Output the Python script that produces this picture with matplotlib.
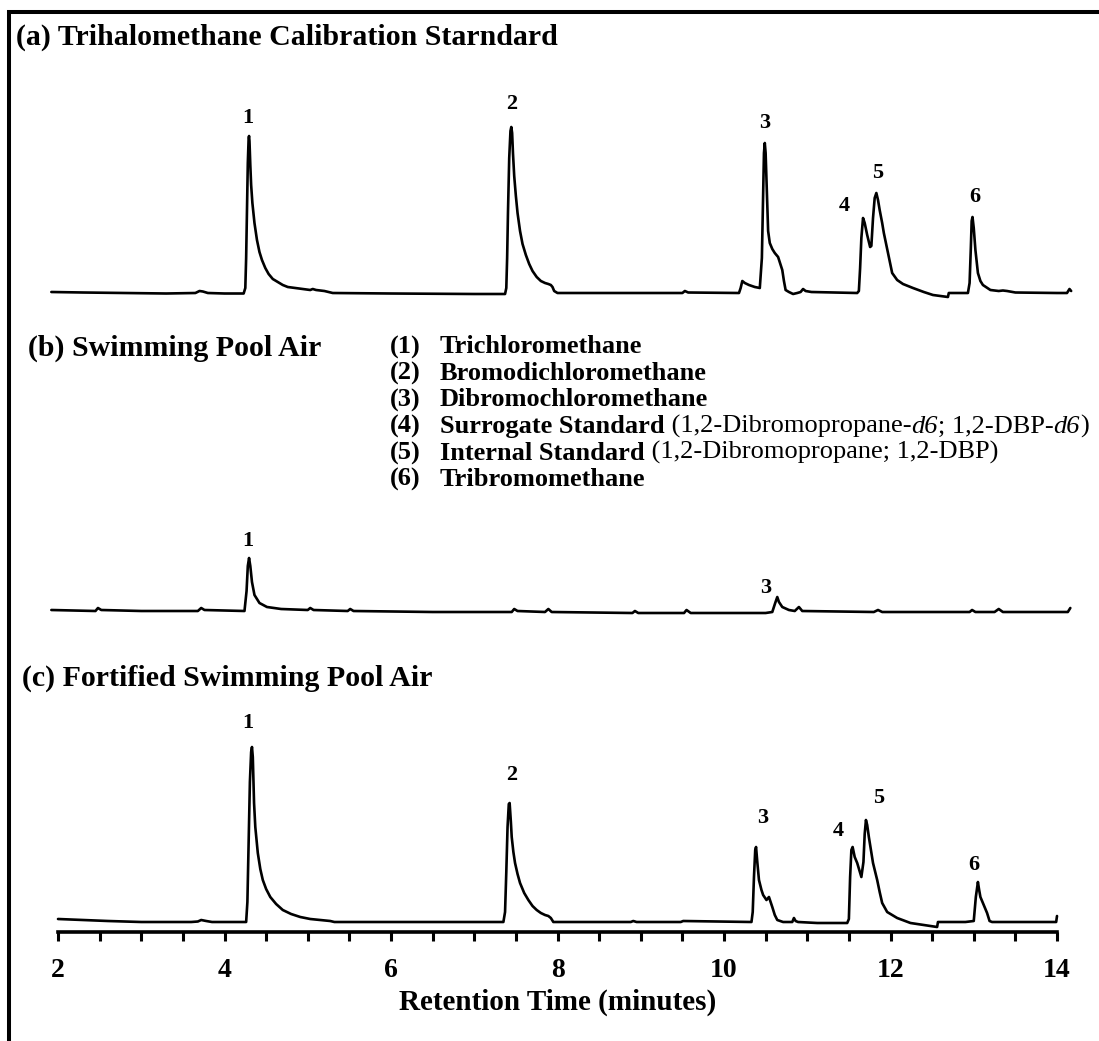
import matplotlib
matplotlib.use("Agg")
import matplotlib.pyplot as plt
from matplotlib.patches import Rectangle
from matplotlib.ticker import MultipleLocator

plt.rcParams["font.family"] = ["Liberation Serif", "DejaVu Serif"]

# ---- chromatogram data: retention time (min) and detector response (a.u.) ----
# (a) trihalomethane calibration standard
time_a = [1.92, 2.3, 2.8, 3.3, 3.65, 3.70, 3.74, 3.80, 4.00, 4.23, 4.25, 4.26, 4.27,
          4.28, 4.29, 4.295, 4.30, 4.31, 4.32, 4.335, 4.36, 4.39, 4.42, 4.45, 4.49,
          4.53, 4.58, 4.64, 4.70, 4.76, 4.85, 4.95, 5.03, 5.06, 5.10, 5.20, 5.30,
          6.00, 7.00, 7.37, 7.385, 7.395, 7.405, 7.42, 7.435, 7.445, 7.455, 7.465,
          7.48, 7.50, 7.52, 7.55, 7.58, 7.62, 7.66, 7.70, 7.75, 7.80, 7.85, 7.89,
          7.92, 7.94, 7.96, 8.00, 9.00, 9.50, 9.53, 9.57, 10.18, 10.20, 10.22, 10.25,
          10.30, 10.37, 10.43, 10.455, 10.47, 10.48, 10.49, 10.50, 10.515, 10.53,
          10.55, 10.58, 10.61, 10.65, 10.68, 10.70, 10.72, 10.74, 10.78, 10.83, 10.88,
          10.92, 10.95, 10.98, 11.05, 11.60, 11.62, 11.635, 11.65, 11.67, 11.69,
          11.72, 11.755, 11.77, 11.79, 11.81, 11.83, 11.85, 11.87, 11.90, 11.92,
          11.97, 12.02, 12.08, 12.15, 12.27, 12.40, 12.51, 12.69, 12.70, 12.93,
          12.95, 12.965, 12.975, 12.985, 13.00, 13.02, 13.05, 13.08, 13.11, 13.20,
          13.30, 13.35, 13.40, 13.50, 14.00, 14.12, 14.15, 14.17]
resp_a = [1, 0.5, 0, -0.5, 0, 2, 1.5, 0, -0.5, -0.5, 5, 35, 80, 130, 155, 157, 152,
          128, 108, 90, 70, 53, 41, 33, 25, 19, 14, 11, 8, 6, 5, 4, 3, 4, 3, 2, 0,
          -0.5, -1, -1, 5, 35, 80, 135, 162, 166, 160, 140, 117, 97, 80, 62, 49, 38,
          29, 22, 16, 12, 10, 9, 8, 6, 2, 0, 0, 0, 2, 0.5, 0, 5, 12, 10, 8, 6, 5, 35,
          100, 140, 150, 140, 100, 62, 50, 44, 40, 36, 28, 23, 12, 3, 1, -1, 0, 1, 4,
          2, 1, 0, 2, 25, 55, 75, 70, 58, 46, 47, 75, 95, 100, 93, 83, 70, 60, 40, 20,
          13, 9, 5, 1, -2, -4, 0, 0, 10, 45, 72, 76, 65, 43, 20, 12, 8, 3, 2, 2.5, 2,
          0.5, 0, 0, 4, 2]

# (b) swimming pool air
time_b = [1.92, 2.45, 2.48, 2.52, 3.00, 3.68, 3.72, 3.76, 4.24, 4.265, 4.28, 4.295,
          4.31, 4.33, 4.36, 4.42, 4.51, 4.68, 5.00, 5.03, 5.07, 5.48, 5.51, 5.55,
          6.50, 7.45, 7.48, 7.52, 7.85, 7.89, 7.93, 8.90, 8.93, 8.97, 9.52, 9.55,
          9.60, 10.50, 10.58, 10.615, 10.64, 10.66, 10.70, 10.78, 10.85, 10.90, 10.94,
          11.80, 11.85, 11.90, 12.95, 12.98, 13.02, 13.25, 13.30, 13.35, 14.00, 14.13,
          14.16]
resp_b = [1, 0, 3, 1, 0, 0, 3, 1, 0, 20, 45, 53, 45, 29, 16, 8, 4, 2, 1, 3, 1, 0, 2,
          0, -1, -1, 2, 0, -1, 2, -1, -2, 0, -2, -2, 1, -2, -2, -1, 8, 14, 9, 4, 1, 0,
          4, 0, -1, 1, -1, -1, 1, -1, -1, 2, -1, -1, -1, 3]

# (c) fortified swimming pool air
time_c = [2.00, 2.30, 2.60, 3.00, 3.60, 3.68, 3.72, 3.78, 3.85, 4.26, 4.275, 4.29,
          4.305, 4.32, 4.33, 4.34, 4.355, 4.37, 4.40, 4.43, 4.46, 4.50, 4.55, 4.62,
          4.70, 4.80, 4.91, 5.03, 5.15, 5.27, 5.32, 6.00, 7.00, 7.35, 7.37, 7.385,
          7.40, 7.415, 7.425, 7.44, 7.45, 7.47, 7.49, 7.52, 7.55, 7.60, 7.65, 7.70,
          7.75, 7.80, 7.85, 7.89, 7.92, 7.95, 8.50, 8.88, 8.91, 8.95, 9.48, 9.51,
          10.33, 10.345, 10.36, 10.375, 10.385, 10.40, 10.42, 10.45, 10.47, 10.51,
          10.54, 10.58, 10.61, 10.64, 10.71, 10.82, 10.84, 10.86, 10.89, 11.12, 11.48,
          11.50, 11.515, 11.53, 11.545, 11.57, 11.60, 11.65, 11.675, 11.69, 11.705,
          11.72, 11.74, 11.79, 11.84, 11.87, 11.90, 11.96, 12.08, 12.24, 12.40, 12.56,
          12.57, 12.90, 13.00, 13.025, 13.05, 13.065, 13.08, 13.11, 13.16, 13.19,
          13.22, 13.99, 14.00]
resp_c = [3, 2, 1, 0, 0, 0.5, 2, 1, 0, 0, 20, 80, 140, 170, 175, 165, 119, 95, 69, 53,
          42, 33, 25, 18, 12, 8, 5, 3, 2, 1, 0, 0, 0, 0, 10, 50, 95, 118, 119, 100, 85,
          70, 59, 48, 39, 29, 22, 16, 12, 9, 7, 6, 4, 0, 0, 0, 1, 0, 0, 1, 0, 10, 45,
          72, 75, 60, 42, 32, 27, 22, 25, 15, 7, 2, 0, 0, 4, 1, 0, -1, -1, 3, 45, 72,
          75, 65, 59, 45, 60, 88, 102, 97, 85, 59, 42, 30, 19, 10, 4, -1, -3, -5, 0,
          0, 1, 25, 40, 32, 25, 19, 9, 1, 0, 0, 6]

# vertical offsets that stack the three chromatograms
offsets = {"a": 639, "b": 321, "c": 10}

# peak labels: (peak number, apex retention time, label dx, dy in px)
labels_a = [("1", 4.295, -1, 18), ("2", 7.445, 0, 23), ("3", 10.49, 0, 20),
            ("4", 11.67, -19, 12), ("5", 11.83, 1, 20), ("6", 12.985, 2, 20)]
labels_b = [("1", 4.295, -1, 17), ("3", 10.64, -12, 9)]
labels_c = [("1", 4.33, -4, 24), ("2", 7.425, 2, 28), ("3", 10.385, 7, 29),
            ("4", 11.545, -14, 16), ("5", 11.705, 13, 22), ("6", 13.05, -4, 17)]

compounds = [("(1)", "Trichloromethane", None),
             ("(2)", "Bromodichloromethane", None),
             ("(3)", "Dibromochloromethane", None),
             ("(4)", "Surrogate Standard", "d6"),
             ("(5)", "Internal Standard", "plain"),
             ("(6)", "Tribromomethane", None)]

panel_titles = ["(a) Trihalomethane Calibration Starndard",
                "(b) Swimming Pool Air",
                "(c) Fortified Swimming Pool Air"]

W, H = 1099, 1041
fig = plt.figure(figsize=(W / 100, H / 100), dpi=100)


def fx(px):
    return px / W


def fy(py):
    return 1 - py / H


# outer frame (runs past the right and bottom edges)
fig.patches.append(Rectangle((fx(8.5), fy(1080)), fx(1130) - fx(8.5), fy(12) - fy(1080),
                             transform=fig.transFigure, fill=False, lw=2.9,
                             edgecolor="black", clip_on=False))

ax = fig.add_axes([fx(58), fy(932), fx(1057) - fx(58), fy(12) - fy(932)])
ax.set_xlim(2, 14)
ax.set_ylim(0, 920)

traces = {"a": (time_a, resp_a), "b": (time_b, resp_b), "c": (time_c, resp_c)}
for key, (t, r) in traces.items():
    ax.plot(t, [v + offsets[key] for v in r], color="black", lw=1.9,
            solid_joinstyle="round", solid_capstyle="round", clip_on=False)

PT = 0.72  # points per pixel at 100 dpi
for key, labs in (("a", labels_a), ("b", labels_b), ("c", labels_c)):
    t, r = traces[key]
    for num, tp, dx, dy in labs:
        i = min(range(len(t)), key=lambda k: abs(t[k] - tp))
        ax.annotate(num, xy=(t[i], r[i] + offsets[key]),
                    xytext=(dx * PT, dy * PT), textcoords="offset points",
                    ha="center", va="center", fontsize=16, fontweight="bold",
                    annotation_clip=False)

for s in ("left", "right", "top"):
    ax.spines[s].set_visible(False)
ax.spines["bottom"].set_linewidth(2.6)
ax.spines["bottom"].set_capstyle("projecting")
ax.set_yticks([])
ax.xaxis.set_major_locator(MultipleLocator(2))
ax.xaxis.set_minor_locator(MultipleLocator(0.5))
ax.tick_params(axis="x", which="both", direction="out", width=2.2, length=6.5,
               labelsize=20, pad=12.5)
for lab in ax.get_xticklabels():
    lab.set_fontweight("bold")
ax.set_xlabel("Retention Time (minutes)", fontsize=21, fontweight="bold", labelpad=4)
ax.patch.set_alpha(0)

# panel titles
for title, (xpx, ypx) in zip(panel_titles, ((16, 37), (28, 348), (22, 678))):
    fig.text(fx(xpx), fy(ypx), title, fontsize=21.5, fontweight="bold", va="center",
             ha="left")

# compound key: bold name, then regular/italic pieces chained to its right
KEY_FS = 19
for i, (num, name, extra) in enumerate(compounds):
    ypx = 347 + 26.5 * i
    fig.text(fx(390), fy(ypx), num, fontsize=KEY_FS, fontweight="bold", va="center")
    prev = fig.text(fx(440), fy(ypx), name, fontsize=KEY_FS, fontweight="bold",
                    va="center")
    if extra == "d6":
        parts = [(" (1,2-Dibromopropane-", "normal"), ("d6", "italic"),
                 ("; 1,2-DBP-", "normal"), ("d6", "italic"), (")", "normal")]
    elif extra == "plain":
        parts = [(" (1,2-Dibromopropane; 1,2-DBP)", "normal")]
    else:
        parts = []
    for txt, style in parts:
        prev = ax.annotate(txt, xy=(1, 0), xycoords=prev, xytext=(0, 0),
                           textcoords="offset points", va="bottom", ha="left",
                           fontsize=KEY_FS, fontstyle=style, annotation_clip=False)

fig.savefig("out.png", dpi=100)
